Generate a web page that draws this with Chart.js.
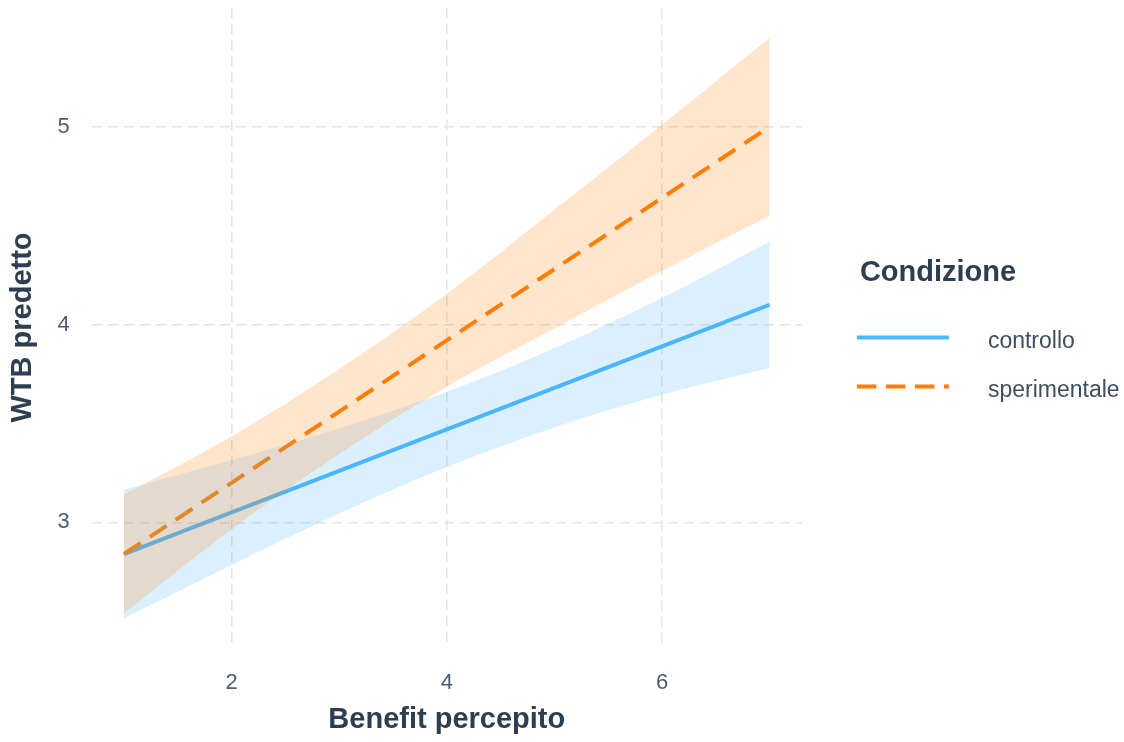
<!DOCTYPE html>
<html>
<head>
<meta charset="utf-8">
<script src="https://cdn.jsdelivr.net/npm/chart.js@4/dist/chart.umd.min.js"></script>
<style>
  html, body { margin: 0; padding: 0; background: #ffffff; }
  canvas { display: block; }
</style>
</head>
<body>
<canvas id="wtb" width="1124" height="742"></canvas>
<script>
// Predicted WTB by perceived benefit, one line per condition with 95% CI ribbons
const benefit = [1, 2, 3, 4, 5, 6, 7];

const controlloFit   = [2.84, 3.05, 3.26, 3.47, 3.68, 3.89, 4.10];
const controlloLower = [2.515, 2.785, 3.045, 3.28, 3.48, 3.645, 3.78];
const controlloUpper = [3.165, 3.315, 3.475, 3.66, 3.88, 4.135, 4.42];

const sperimentaleFit   = [2.84, 3.20, 3.56, 3.92, 4.28, 4.64, 5.00];
const sperimentaleLower = [2.54, 2.965, 3.345, 3.685, 3.98, 4.27, 4.55];
const sperimentaleUpper = [3.14, 3.435, 3.775, 4.155, 4.58, 5.01, 5.45];

const xTicks = [2, 4, 6];
const yTicks = [3, 4, 5];

const legendTitle = 'Condizione';
const xTitle = 'Benefit percepito';
const yTitle = 'WTB predetto';

const BLUE = '#4DB6FF';
const ORANGE = '#FF7F00';
const TITLE_COLOR = '#2C3E50';
const TICK_COLOR = '#4D5D6E';
const GRID_COLOR = '#E4E4E4';
const FONT = '"Liberation Sans", Arial, sans-serif';

const pts = ys => benefit.map((x, i) => ({ x: x, y: ys[i] }));

const ribbon = (label, ys, color, target, order) => ({
  label: label,
  data: pts(ys),
  borderWidth: 0,
  pointRadius: 0,
  backgroundColor: color,
  fill: target === null ? false : { target: target },
  cubicInterpolationMode: 'monotone',
  order: order
});

// Small plugin that draws the line-type legend on the right
const sideLegend = {
  id: 'sideLegend',
  afterDraw(chart) {
    const { ctx, chartArea } = chart;
    const mid = (chartArea.top + chartArea.bottom) / 2;
    const x0 = chartArea.right + 55;
    const keyLen = 92;
    const textX = chartArea.right + 186;
    ctx.save();
    ctx.fillStyle = TITLE_COLOR;
    ctx.font = 'bold 29px ' + FONT;
    ctx.textBaseline = 'alphabetic';
    ctx.textAlign = 'left';
    ctx.fillText(legendTitle, chartArea.right + 58, mid - 47);

    const items = [chart.data.datasets[4], chart.data.datasets[5]];
    items.forEach((ds, i) => {
      const ly = mid + 10 + i * 49;
      ctx.beginPath();
      // the key uses a slightly tighter dash so four dashes fit the key length
      ctx.setLineDash(ds.borderDash ? [19.5, 9.5] : []);
      ctx.lineDashOffset = 0;
      ctx.strokeStyle = ds.borderColor;
      ctx.lineWidth = ds.borderWidth;
      ctx.lineCap = 'butt';
      ctx.moveTo(x0, ly);
      ctx.lineTo(x0 + keyLen, ly);
      ctx.stroke();
      ctx.setLineDash([]);
      ctx.fillStyle = '#3E4E60';
      ctx.font = '23px ' + FONT;
      ctx.fillText(ds.label, textX, ly + 10);
    });
    ctx.restore();
  }
};

new Chart(document.getElementById('wtb'), {
  type: 'line',
  data: {
    datasets: [
      ribbon('controllo CI upper', controlloUpper, 'rgba(77,182,255,0.2)', 1, 1),
      ribbon('controllo CI lower', controlloLower, 'rgba(77,182,255,0.2)', null, 1),
      ribbon('sperimentale CI upper', sperimentaleUpper, 'rgba(255,127,0,0.2)', 3, 0),
      ribbon('sperimentale CI lower', sperimentaleLower, 'rgba(255,127,0,0.2)', null, 0),
      {
        label: 'controllo',
        data: pts(controlloFit),
        borderColor: BLUE,
        borderWidth: 4,
        pointRadius: 0,
        fill: false,
        order: 3
      },
      {
        label: 'sperimentale',
        data: pts(sperimentaleFit),
        borderColor: ORANGE,
        borderWidth: 4,
        borderDash: [20, 11],
        pointRadius: 0,
        fill: false,
        order: 2
      }
    ]
  },
  options: {
    responsive: false,
    animation: false,
    layout: { padding: { left: 0, right: 322.1, top: 8, bottom: 0 } },
    plugins: {
      legend: { display: false },
      tooltip: { enabled: false },
      filler: { drawTime: 'beforeDatasetDraw' }
    },
    scales: {
      x: {
        type: 'linear',
        min: 0.7,
        max: 7.3,
        afterBuildTicks: s => { s.ticks = xTicks.map(v => ({ value: v })); },
        afterFit: s => { s.height = 95; s.paddingLeft = 0; s.paddingRight = 0; },
        grid: { color: GRID_COLOR, lineWidth: 1.6, drawTicks: false },
        border: { display: false, dash: [10, 6] },
        ticks: {
          color: TICK_COLOR,
          padding: 23,
          maxRotation: 0,
          font: { family: FONT, size: 22 }
        },
        title: {
          display: true,
          text: xTitle,
          color: TITLE_COLOR,
          padding: { top: 0, bottom: 4.6 },
          font: { family: FONT, size: 29, weight: 'bold' }
        }
      },
      y: {
        type: 'linear',
        min: 2.37,
        max: 5.6,
        afterBuildTicks: s => { s.ticks = yTicks.map(v => ({ value: v })); },
        afterFit: s => { s.width = 91.7; s.paddingTop = 0; s.paddingBottom = 0; },
        grid: { color: GRID_COLOR, lineWidth: 1.6, drawTicks: false },
        border: { display: false, dash: [10, 6] },
        ticks: {
          color: TICK_COLOR,
          padding: 22,
          font: { family: FONT, size: 22 }
        },
        title: {
          display: true,
          text: yTitle,
          color: TITLE_COLOR,
          padding: { top: 5.6, bottom: 0 },
          font: { family: FONT, size: 29, weight: 'bold' }
        }
      }
    }
  },
  plugins: [sideLegend]
});
</script>
</body>
</html>
